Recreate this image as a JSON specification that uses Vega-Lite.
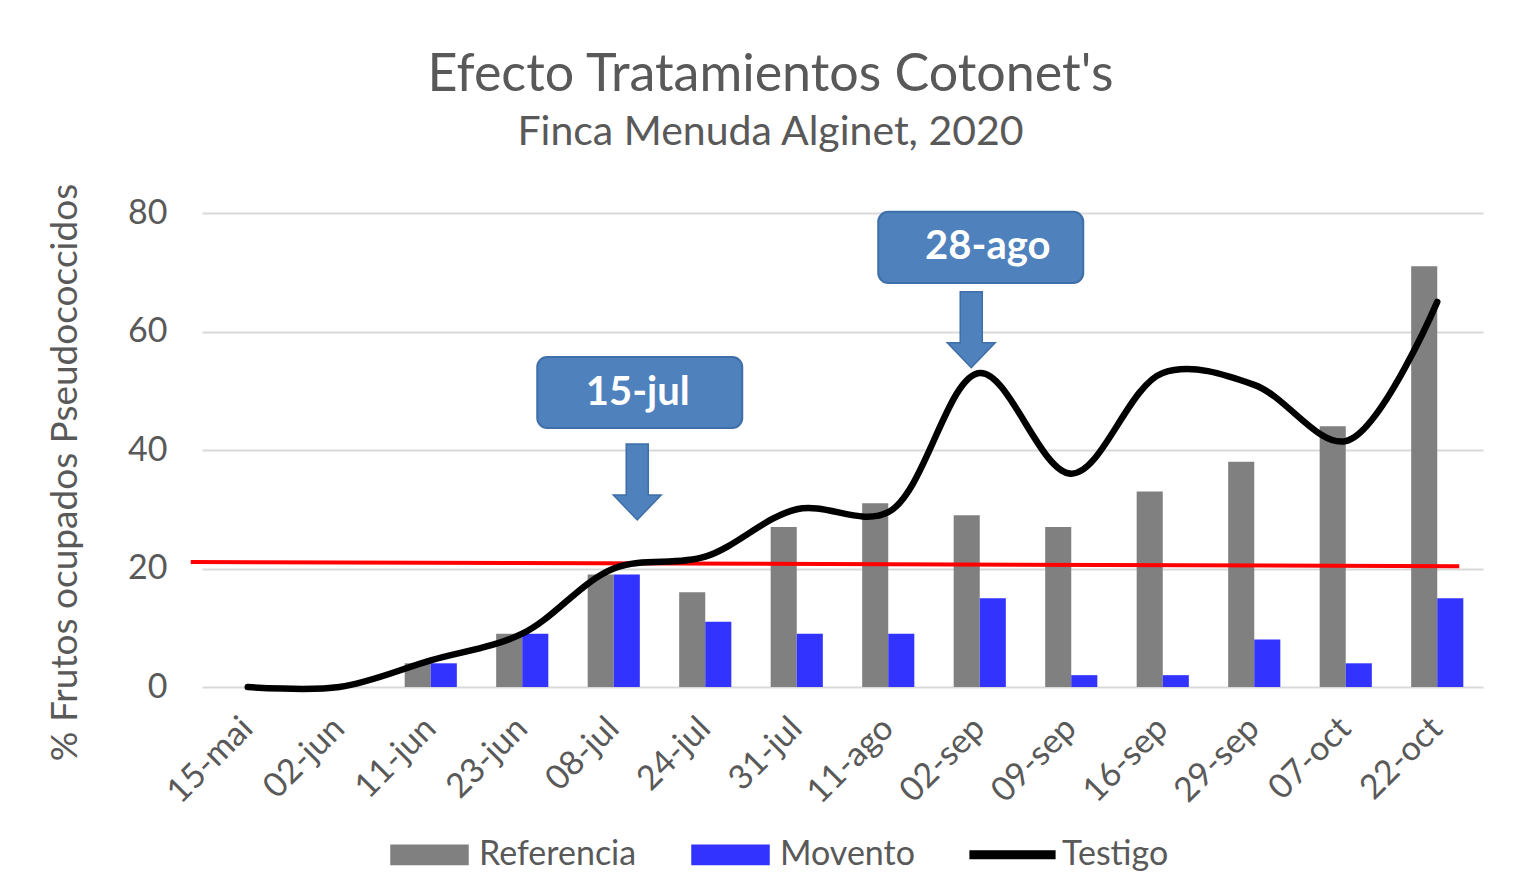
{
  "$schema": "https://vega.github.io/schema/vega-lite/v6.json",
  "autosize": "none",
  "width": 1281,
  "height": 474,
  "padding": {"left": 202, "top": 213, "right": 30, "bottom": 195},
  "background": "white",
  "title": {
    "text": "Efecto Tratamientos Cotonet's",
    "subtitle": "Finca Menuda Alginet, 2020",
    "anchor": "middle",
    "dx": -72,
    "offset": 29,
    "font": "Lato",
    "fontSize": 52,
    "fontWeight": "normal",
    "color": "#595959",
    "subtitleFont": "Lato",
    "subtitleFontSize": 41,
    "subtitleColor": "#595959",
    "subtitlePadding": 11
  },
  "config": {
    "font": "Lato",
    "view": {"stroke": null},
    "axisX": {
      "labelAngle": -45,
      "labelFontSize": 34,
      "labelColor": "#595959",
      "labelAlign": "right",
      "labelBaseline": "middle",
      "ticks": false,
      "domain": false,
      "grid": false,
      "title": null,
      "labelPadding": 36
    },
    "axisY": {
      "domain": false,
      "ticks": false,
      "gridColor": "#D9D9D9",
      "gridWidth": 2,
      "labelFontSize": 34,
      "labelColor": "#595959",
      "labelPadding": 35
    }
  },
  "datasets": {
    "series": [
      {"fecha": "15-mai", "serie": "Referencia", "valor": 0},
      {"fecha": "02-jun", "serie": "Referencia", "valor": 0},
      {"fecha": "11-jun", "serie": "Referencia", "valor": 4},
      {"fecha": "23-jun", "serie": "Referencia", "valor": 9},
      {"fecha": "08-jul", "serie": "Referencia", "valor": 19},
      {"fecha": "24-jul", "serie": "Referencia", "valor": 16},
      {"fecha": "31-jul", "serie": "Referencia", "valor": 27},
      {"fecha": "11-ago", "serie": "Referencia", "valor": 31},
      {"fecha": "02-sep", "serie": "Referencia", "valor": 29},
      {"fecha": "09-sep", "serie": "Referencia", "valor": 27},
      {"fecha": "16-sep", "serie": "Referencia", "valor": 33},
      {"fecha": "29-sep", "serie": "Referencia", "valor": 38},
      {"fecha": "07-oct", "serie": "Referencia", "valor": 44},
      {"fecha": "22-oct", "serie": "Referencia", "valor": 71},
      {"fecha": "15-mai", "serie": "Movento", "valor": 0},
      {"fecha": "02-jun", "serie": "Movento", "valor": 0},
      {"fecha": "11-jun", "serie": "Movento", "valor": 4},
      {"fecha": "23-jun", "serie": "Movento", "valor": 9},
      {"fecha": "08-jul", "serie": "Movento", "valor": 19},
      {"fecha": "24-jul", "serie": "Movento", "valor": 11},
      {"fecha": "31-jul", "serie": "Movento", "valor": 9},
      {"fecha": "11-ago", "serie": "Movento", "valor": 9},
      {"fecha": "02-sep", "serie": "Movento", "valor": 15},
      {"fecha": "09-sep", "serie": "Movento", "valor": 2},
      {"fecha": "16-sep", "serie": "Movento", "valor": 2},
      {"fecha": "29-sep", "serie": "Movento", "valor": 8},
      {"fecha": "07-oct", "serie": "Movento", "valor": 4},
      {"fecha": "22-oct", "serie": "Movento", "valor": 15},
      {"fecha": "15-mai", "serie": "Testigo", "valor": 0},
      {"fecha": "02-jun", "serie": "Testigo", "valor": 0},
      {"fecha": "11-jun", "serie": "Testigo", "valor": 4.5},
      {"fecha": "23-jun", "serie": "Testigo", "valor": 9},
      {"fecha": "08-jul", "serie": "Testigo", "valor": 20},
      {"fecha": "24-jul", "serie": "Testigo", "valor": 22},
      {"fecha": "31-jul", "serie": "Testigo", "valor": 30},
      {"fecha": "11-ago", "serie": "Testigo", "valor": 29.5},
      {"fecha": "02-sep", "serie": "Testigo", "valor": 53},
      {"fecha": "09-sep", "serie": "Testigo", "valor": 36},
      {"fecha": "16-sep", "serie": "Testigo", "valor": 53},
      {"fecha": "29-sep", "serie": "Testigo", "valor": 51},
      {"fecha": "07-oct", "serie": "Testigo", "valor": 41.5},
      {"fecha": "22-oct", "serie": "Testigo", "valor": 65}
    ]
  },
  "layer": [
    {
      "data": {"name": "series"},
      "transform": [{"filter": "datum.serie !== 'Testigo'"}],
      "mark": {"type": "bar"},
      "encoding": {
        "x": {
          "field": "fecha", "type": "nominal",
          "scale": {"domain": ["15-mai","02-jun","11-jun","23-jun","08-jul","24-jul","31-jul","11-ago","02-sep","09-sep","16-sep","29-sep","07-oct","22-oct"], "paddingInner": 0.43, "paddingOuter": 0.215}
        },
        "xOffset": {"field": "serie", "type": "nominal", "scale": {"domain": ["Referencia", "Movento"]}},
        "y": {
          "field": "valor", "type": "quantitative",
          "scale": {"domain": [0, 80], "nice": false},
          "axis": {
            "values": [0, 20, 40, 60, 80],
            "title": "% Frutos ocupados Pseudococcidos",
            "titleFontSize": 37,
            "titleFontWeight": "normal",
            "titleColor": "#595959",
            "titleX": -137,
            "titleY": 259,
            "titleAngle": -90,
            "titleAlign": "center",
            "titleBaseline": "middle"
          }
        },
        "color": {
          "field": "serie", "type": "nominal",
          "scale": {"domain": ["Referencia", "Movento", "Testigo"], "range": ["#808080", "#3333FF", "#000000"]},
          "legend": {
            "orient": "none",
            "legendX": 188,
            "legendY": 602,
            "direction": "horizontal",
            "title": null,
            "labelFontSize": 34,
            "labelColor": "#595959",
            "labelLimit": 400,
            "symbolSize": 5929,
            "symbolType": "M-1,-0.25H1V0.25H-1Z",
            "labelOffset": 10,
            "columnPadding": 52,
            "encode": {
              "symbols": {
                "update": {
                  "shape": {"signal": "datum.value === 'Testigo' ? 'M-1.1,-0.1H1.1V0.1H-1.1Z' : 'M-1,-0.25H1V0.25H-1Z'"},
                  "fill": {"scale": "color", "field": "value"},
                  "stroke": {"value": "transparent"},
                  "opacity": {"value": 1},
                  "fillOpacity": {"value": 1}
                }
              }
            }
          }
        }
      }
    },
    {
      "data": {"values": [{"fecha": "15-mai", "fecha2": "22-oct", "y1": 21.1, "y2": 20.4}]},
      "mark": {"type": "rule", "color": "#FF0000", "strokeWidth": 4, "xOffset": -57, "x2Offset": 22},
      "encoding": {
        "x": {"field": "fecha", "type": "nominal"},
        "x2": {"field": "fecha2"},
        "y": {"field": "y1", "type": "quantitative"},
        "y2": {"field": "y2"}
      }
    },
    {
      "data": {"name": "series"},
      "transform": [{"filter": "datum.serie === 'Testigo'"}],
      "mark": {"type": "line", "interpolate": "catmull-rom", "strokeWidth": 6.5, "strokeCap": "round"},
      "encoding": {
        "x": {"field": "fecha", "type": "nominal"},
        "y": {"field": "valor", "type": "quantitative"},
        "color": {"field": "serie", "type": "nominal"}
      }
    },
    {
      "data": {"values": [{"fecha": "08-jul", "top": 55.7, "bottom": 43.7, "mid": 49.7, "label": "15-jul", "arrow": 34.6}]},
      "layer": [
        {
          "mark": {"type": "bar", "width": 205, "cornerRadius": 10, "fill": "#4F81BD", "stroke": "#3E6FA8", "strokeWidth": 2, "xOffset": 26},
          "encoding": {
            "x": {"field": "fecha", "type": "nominal"},
            "y": {"field": "top", "type": "quantitative"},
            "y2": {"field": "bottom"}
          }
        },
        {
          "mark": {"type": "text", "fontSize": 40, "fontWeight": "bold", "color": "white", "xOffset": 24, "baseline": "middle", "align": "center"},
          "encoding": {
            "x": {"field": "fecha", "type": "nominal"},
            "y": {"field": "mid", "type": "quantitative"},
            "text": {"field": "label"}
          }
        },
        {
          "mark": {"type": "point", "filled": true, "shape": "M-0.29,-1H0.29V0.34H0.63L0,1L-0.63,0.34H-0.29Z", "size": 5776, "fill": "#4F81BD", "stroke": "#3E6FA8", "strokeWidth": 1.5, "opacity": 1, "xOffset": 23.5},
          "encoding": {
            "x": {"field": "fecha", "type": "nominal"},
            "y": {"field": "arrow", "type": "quantitative"}
          }
        }
      ]
    },
    {
      "data": {"values": [{"fecha": "02-sep", "top": 80.2, "bottom": 68.2, "mid": 74.2, "label": "28-ago", "arrow": 60.3}]},
      "layer": [
        {
          "mark": {"type": "bar", "width": 205, "cornerRadius": 10, "fill": "#4F81BD", "stroke": "#3E6FA8", "strokeWidth": 2, "xOffset": 1},
          "encoding": {
            "x": {"field": "fecha", "type": "nominal"},
            "y": {"field": "top", "type": "quantitative"},
            "y2": {"field": "bottom"}
          }
        },
        {
          "mark": {"type": "text", "fontSize": 40, "fontWeight": "bold", "color": "white", "xOffset": 8, "baseline": "middle", "align": "center"},
          "encoding": {
            "x": {"field": "fecha", "type": "nominal"},
            "y": {"field": "mid", "type": "quantitative"},
            "text": {"field": "label"}
          }
        },
        {
          "mark": {"type": "point", "filled": true, "shape": "M-0.29,-1H0.29V0.34H0.63L0,1L-0.63,0.34H-0.29Z", "size": 5776, "fill": "#4F81BD", "stroke": "#3E6FA8", "strokeWidth": 1.5, "opacity": 1, "xOffset": -8.5},
          "encoding": {
            "x": {"field": "fecha", "type": "nominal"},
            "y": {"field": "arrow", "type": "quantitative"}
          }
        }
      ]
    }
  ]
}
